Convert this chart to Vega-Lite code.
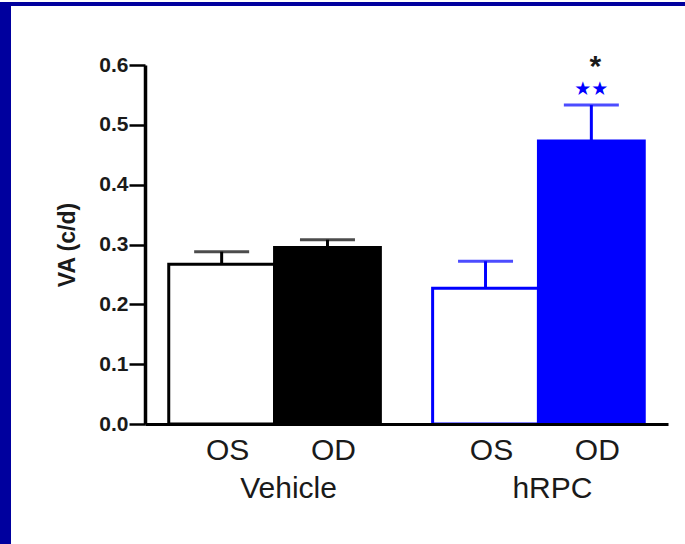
{
  "$schema": "https://vega.github.io/schema/vega-lite/v6.json",
  "background": "white",
  "padding": 0,
  "bounds": "flush",
  "spacing": 0,
  "config": {
    "view": {"stroke": null},
    "font": "Liberation Sans"
  },
  "vconcat": [
    {
      "width": 685,
      "height": 4,
      "data": {"values": [{}]},
      "mark": {"type": "rect", "color": "#00009E"},
      "encoding": {}
    },
    {
      "hconcat": [
        {
          "width": 11,
          "height": 540,
          "data": {"values": [{}]},
          "mark": {"type": "rect", "color": "#00009E"},
          "encoding": {}
        },
        {
          "vconcat": [
            {
              "width": 1,
              "height": 1,
              "data": {"values": [{}]},
              "mark": {"type": "text", "opacity": 0},
              "encoding": {}
            },
            {
              "hconcat": [
                {
                  "width": 1,
                  "height": 1,
                  "data": {"values": [{}]},
                  "mark": {"type": "text", "opacity": 0},
                  "encoding": {}
                },
                {
                  "width": 523,
                  "height": 359,
                  "data": {
                    "values": [
                      {"group": "Vehicle", "eye": "OS", "va": 0.267, "upper": 0.288, "sig": "", "sig2": ""},
                      {"group": "Vehicle", "eye": "OD", "va": 0.295, "upper": 0.308, "sig": "", "sig2": ""},
                      {"group": "hRPC", "eye": "OS", "va": 0.227, "upper": 0.272, "sig": "", "sig2": ""},
                      {"group": "hRPC", "eye": "OD", "va": 0.473, "upper": 0.533, "sig": "★★", "sig2": "*"}
                    ]
                  },
                  "encoding": {
                    "x": {
                      "field": "group",
                      "type": "nominal",
                      "sort": ["Vehicle", "hRPC"],
                      "scale": {"domain": ["Vehicle", "hRPC"], "paddingInner": 0.198, "paddingOuter": 0.09},
                      "axis": {
                        "title": null,
                        "zindex": 1,
                        "domainColor": "black",
                        "domainWidth": 3,
                        "ticks": false,
                        "tickSize": 0,
                        "labelAngle": 0,
                        "labelFont": "Liberation Sans",
                        "labelFontSize": 30,
                        "labelColor": "#1a1a1a",
                        "labelBaseline": "alphabetic",
                        "labelPadding": 73,
                        "labelOffset": 14
                      }
                    },
                    "xOffset": {
                      "field": "eye",
                      "type": "nominal",
                      "sort": ["OS", "OD"],
                      "scale": {"paddingInner": 0, "paddingOuter": 0}
                    }
                  },
                  "layer": [
                    {
                      "mark": {"type": "bar", "strokeWidth": 3},
                      "encoding": {
                        "y": {
                          "field": "va",
                          "type": "quantitative",
                          "scale": {"domain": [0, 0.6], "nice": false},
                          "axis": {
                            "title": "VA (c/d)",
                            "zindex": 1,
                            "values": [0, 0.1, 0.2, 0.3, 0.4, 0.5, 0.6],
                            "format": ".1f",
                            "grid": false,
                            "domainColor": "black",
                            "domainWidth": 3.5,
                            "tickColor": "black",
                            "tickWidth": 2.5,
                            "tickSize": 16,
                            "labelPadding": 1,
                            "labelFont": "Liberation Sans",
                            "labelFontWeight": "bold",
                            "labelFontSize": 21,
                            "labelColor": "#1a1a1a",
                            "titleFont": "Liberation Sans",
                            "titleFontWeight": "bold",
                            "titleFontSize": 23,
                            "titleColor": "#1a1a1a",
                            "titlePadding": 19
                          }
                        },
                        "fill": {
                          "condition": {"test": "datum.eye === 'OS'", "value": "white"},
                          "field": "group",
                          "type": "nominal",
                          "scale": {"domain": ["Vehicle", "hRPC"], "range": ["black", "#0000FF"]},
                          "legend": null
                        },
                        "stroke": {
                          "field": "group",
                          "type": "nominal",
                          "scale": {"domain": ["Vehicle", "hRPC"], "range": ["black", "#0000FF"]},
                          "legend": null
                        }
                      }
                    },
                    {
                      "mark": {"type": "rule", "strokeWidth": 3},
                      "encoding": {
                        "y": {"field": "va", "type": "quantitative"},
                        "y2": {"field": "upper"},
                        "stroke": {"field": "group", "type": "nominal", "legend": null}
                      }
                    },
                    {
                      "mark": {"type": "tick", "orient": "horizontal", "size": 55, "thickness": 3},
                      "encoding": {
                        "y": {"field": "upper", "type": "quantitative"},
                        "color": {
                          "field": "group",
                          "type": "nominal",
                          "scale": {"domain": ["Vehicle", "hRPC"], "range": ["black", "#0000FF"]},
                          "legend": null
                        }
                      }
                    },
                    {
                      "mark": {"type": "text", "fontSize": 30, "font": "Liberation Sans", "color": "#1a1a1a", "baseline": "alphabetic", "dx": 6},
                      "encoding": {
                        "y": {"datum": -0.06},
                        "text": {"field": "eye"}
                      }
                    },
                    {
                      "transform": [{"filter": "datum.sig !== ''"}],
                      "mark": {"type": "text", "fontSize": 19, "font": "DejaVu Sans", "color": "#0000FF", "baseline": "alphabetic", "dy": -10},
                      "encoding": {
                        "y": {"field": "upper", "type": "quantitative"},
                        "text": {"field": "sig"}
                      }
                    },
                    {
                      "transform": [{"filter": "datum.sig2 !== ''"}],
                      "mark": {"type": "text", "fontSize": 30, "fontWeight": "bold", "font": "Liberation Sans", "color": "#1a1a1a", "baseline": "alphabetic", "dy": -29, "dx": 4},
                      "encoding": {
                        "y": {"field": "upper", "type": "quantitative"},
                        "text": {"field": "sig2"}
                      }
                    }
                  ]
                }
              ],
              "spacing": 133,
              "bounds": "flush"
            }
          ],
          "spacing": 58,
          "bounds": "flush"
        }
      ],
      "spacing": 0,
      "bounds": "flush"
    }
  ]
}
